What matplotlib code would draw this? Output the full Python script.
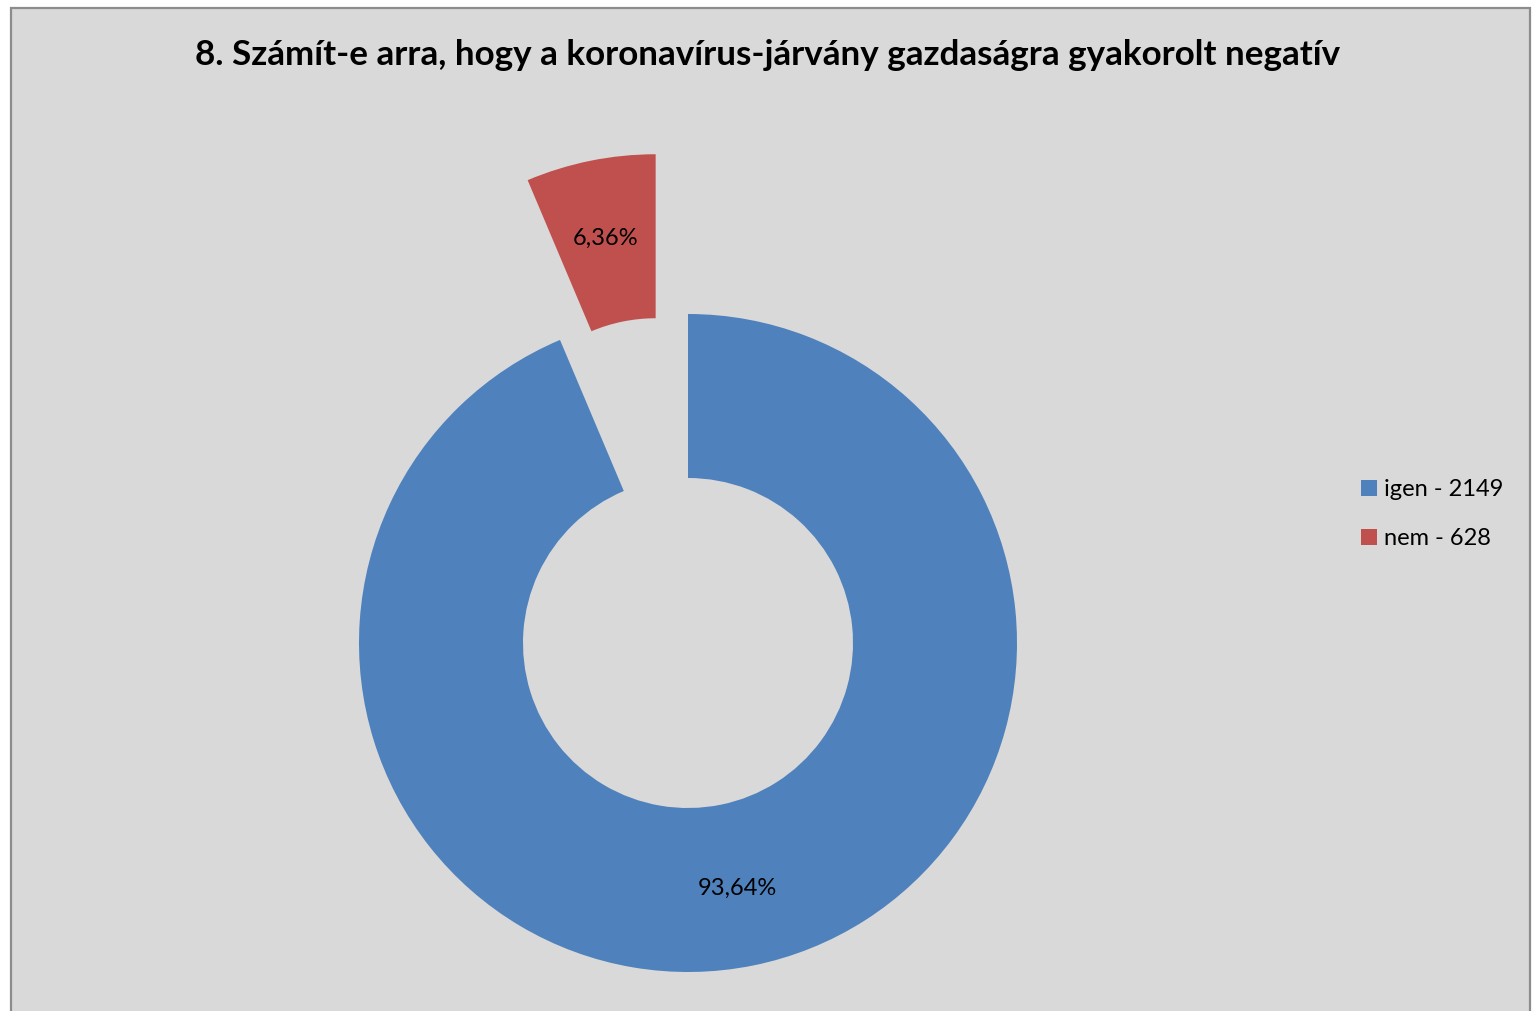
import matplotlib
matplotlib.use("Agg")
import matplotlib.pyplot as plt
from matplotlib.patches import Rectangle

# ----------------------------
# Data
# ----------------------------
TITLE = "8. Számít-e arra, hogy a koronavírus-járvány gazdaságra gyakorolt negatív"
LABELS = ["igen - 2149", "nem - 628"]
SHARES = [93.64, 6.36]
COLORS = ["#4F81BD", "#C0504D"]

# ----------------------------
# Layout (pixels, origin bottom-left)
# ----------------------------
W, H = 1534, 1011
BG = "#D9D9D9"
CENTER = (688, H - 643)
R_OUT = 329
R_IN = 165
EXPLODE = [0, 163]

plt.rcParams["font.family"] = ["Lato", "DejaVu Sans"]

fig = plt.figure(figsize=(W / 100, H / 100), dpi=100, facecolor="white")

# chart area frame, kept behind the axes
fig.patches.append(Rectangle((10.5 / W, -0.02), 1519.5 / W, (H - 8) / H + 0.02,
                             transform=fig.transFigure, facecolor=BG,
                             edgecolor="#8C8C8C", linewidth=1.6, zorder=-10))

ax = fig.add_axes([0, 0, 1, 1])
ax.set_facecolor("none")
ax.set_zorder(5)

wedges, texts, autotexts = ax.pie(
    SHARES, colors=COLORS, startangle=90, counterclock=False,
    center=CENTER, radius=R_OUT, explode=EXPLODE,
    wedgeprops=dict(width=R_OUT - R_IN, linewidth=0),
    autopct=lambda p: f"{p:.2f}%".replace(".", ","), pctdistance=0.76,
    textprops=dict(fontsize=17, color="black"),
)

ax.set_xlim(0, W)
ax.set_ylim(0, H)
ax.set_aspect("equal")
ax.axis("off")

fig.text(768 / W, 1 - 55 / H, TITLE, ha="center", va="center",
         fontsize=25.2, fontweight="bold")

leg = ax.legend(wedges, LABELS, loc="upper left", bbox_to_anchor=(1361 / W, 1 - 479 / H),
                frameon=False, fontsize=17, handlelength=0.68, handleheight=0.68,
                handletextpad=0.3, labelspacing=1.2, borderaxespad=0, borderpad=0)

fig.savefig("out.png", dpi=100, facecolor=fig.get_facecolor())
